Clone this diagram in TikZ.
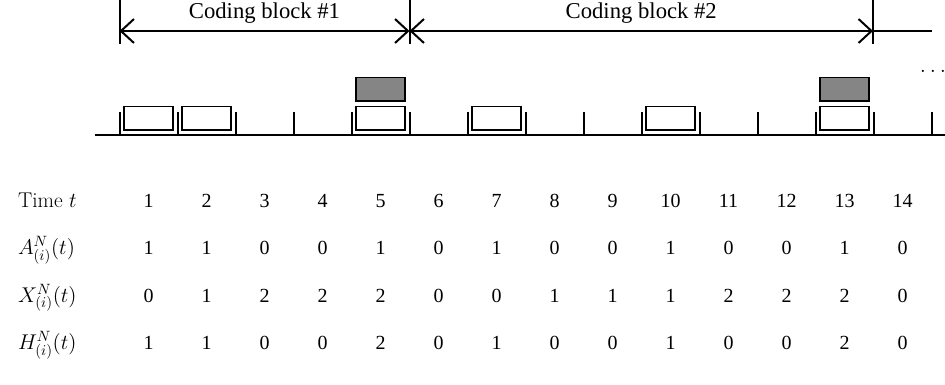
\RequirePackage{fix-cm}
\documentclass[tikz,border=0pt]{standalone}
\usepackage{fontspec}
\newfontfamily\numfont{Liberation Serif}
\usetikzlibrary{arrows.meta}

\definecolor{codedgray}{RGB}{133,133,133}

\tikzset{every picture/.style={line width=1.5pt}}

\begin{document}
\begin{tikzpicture}[x=0.75pt,y=0.75pt,yscale=-1,xscale=1,
  packet/.style={draw=black,line width=1.2pt,fill=white},
  coded/.style={draw=black,line width=1.2pt,fill=codedgray},
  barb/.tip={Straight Barb[length=9.75pt,width=18pt]},
  blockspan/.style={barb-barb},
  blocklabel/.style={font=\numfont\fontsize{17}{20}\selectfont,anchor=base},
  rowlabel/.style={font=\fontsize{16}{19}\selectfont,anchor=base west,inner sep=0pt},
  entry/.style={font=\numfont\fontsize{15}{18}\selectfont,anchor=base}]
\useasboundingbox (0,0) rectangle (945,385);

%Coding blocks: boundaries and spans
\coordinate (s0) at (119.5,31);
\coordinate (s1) at (409.5,31);
\coordinate (s2) at (873,31);
\coordinate (s3) at (931.5,31);
\foreach \s in {s0,s1,s2}
  \draw ([yshift=9.75pt]\s) -- ([yshift=-25.5pt]\s);
\draw [blockspan] (s0) -- (s1) node [blocklabel,midway,yshift=9.4pt] (cb1) {Coding block \#1};
\draw [blockspan] (s1) -- (s2) node [blocklabel,midway,yshift=9.4pt] (cb2) {Coding block \#2};
\draw (s2) -- (s3);

% Text Node
\node [font=\fontsize{17}{20}\selectfont,anchor=base] (more) at (933,73) {$\ldots$};

%Time axis with slot ticks
\draw (95,135) -- (945,135);
\foreach \k in {0,...,14}
  \draw ({119.5+58*\k},112) -- ({119.5+58*\k},135);

%Packets sent in a slot (white) and coded packets (gray)
\foreach \k in {1,2,5,7,10,13}
  \draw [packet] ({119.5+58*(\k-1)+4.5},106.5) rectangle ({119.5+58*\k-4.5},130);
\foreach \k in {5,13}
  \draw [coded] ({119.5+58*(\k-1)+4.5},77.5) rectangle ({119.5+58*\k-4.5},101);

%Table rows
\node [rowlabel] (lt) at (17,207) {Time $t$};
\node [rowlabel] (la) at (17,254.5) {$A^N_{(i)}(t)$};
\node [rowlabel] (lx) at (17,302) {$X^N_{(i)}(t)$};
\node [rowlabel] (lh) at (17,349.5) {$H^N_{(i)}(t)$};

\foreach \k/\a/\x/\h in {1/1/0/1,2/1/1/1,3/0/2/0,4/0/2/0,5/1/2/2,6/0/0/0,7/1/0/1,
                         8/0/1/0,9/0/1/0,10/1/1/1,11/0/2/0,12/0/2/0,13/1/2/2,14/0/0/0}{
  \node [entry] (t\k) at ({148.5+58*(\k-1)},207) {\k};
  \node [entry] (a\k) at ({148.5+58*(\k-1)},254.5) {\a};
  \node [entry] (x\k) at ({148.5+58*(\k-1)},302) {\x};
  \node [entry] (h\k) at ({148.5+58*(\k-1)},349.5) {\h};
}

\end{tikzpicture}
\end{document}
